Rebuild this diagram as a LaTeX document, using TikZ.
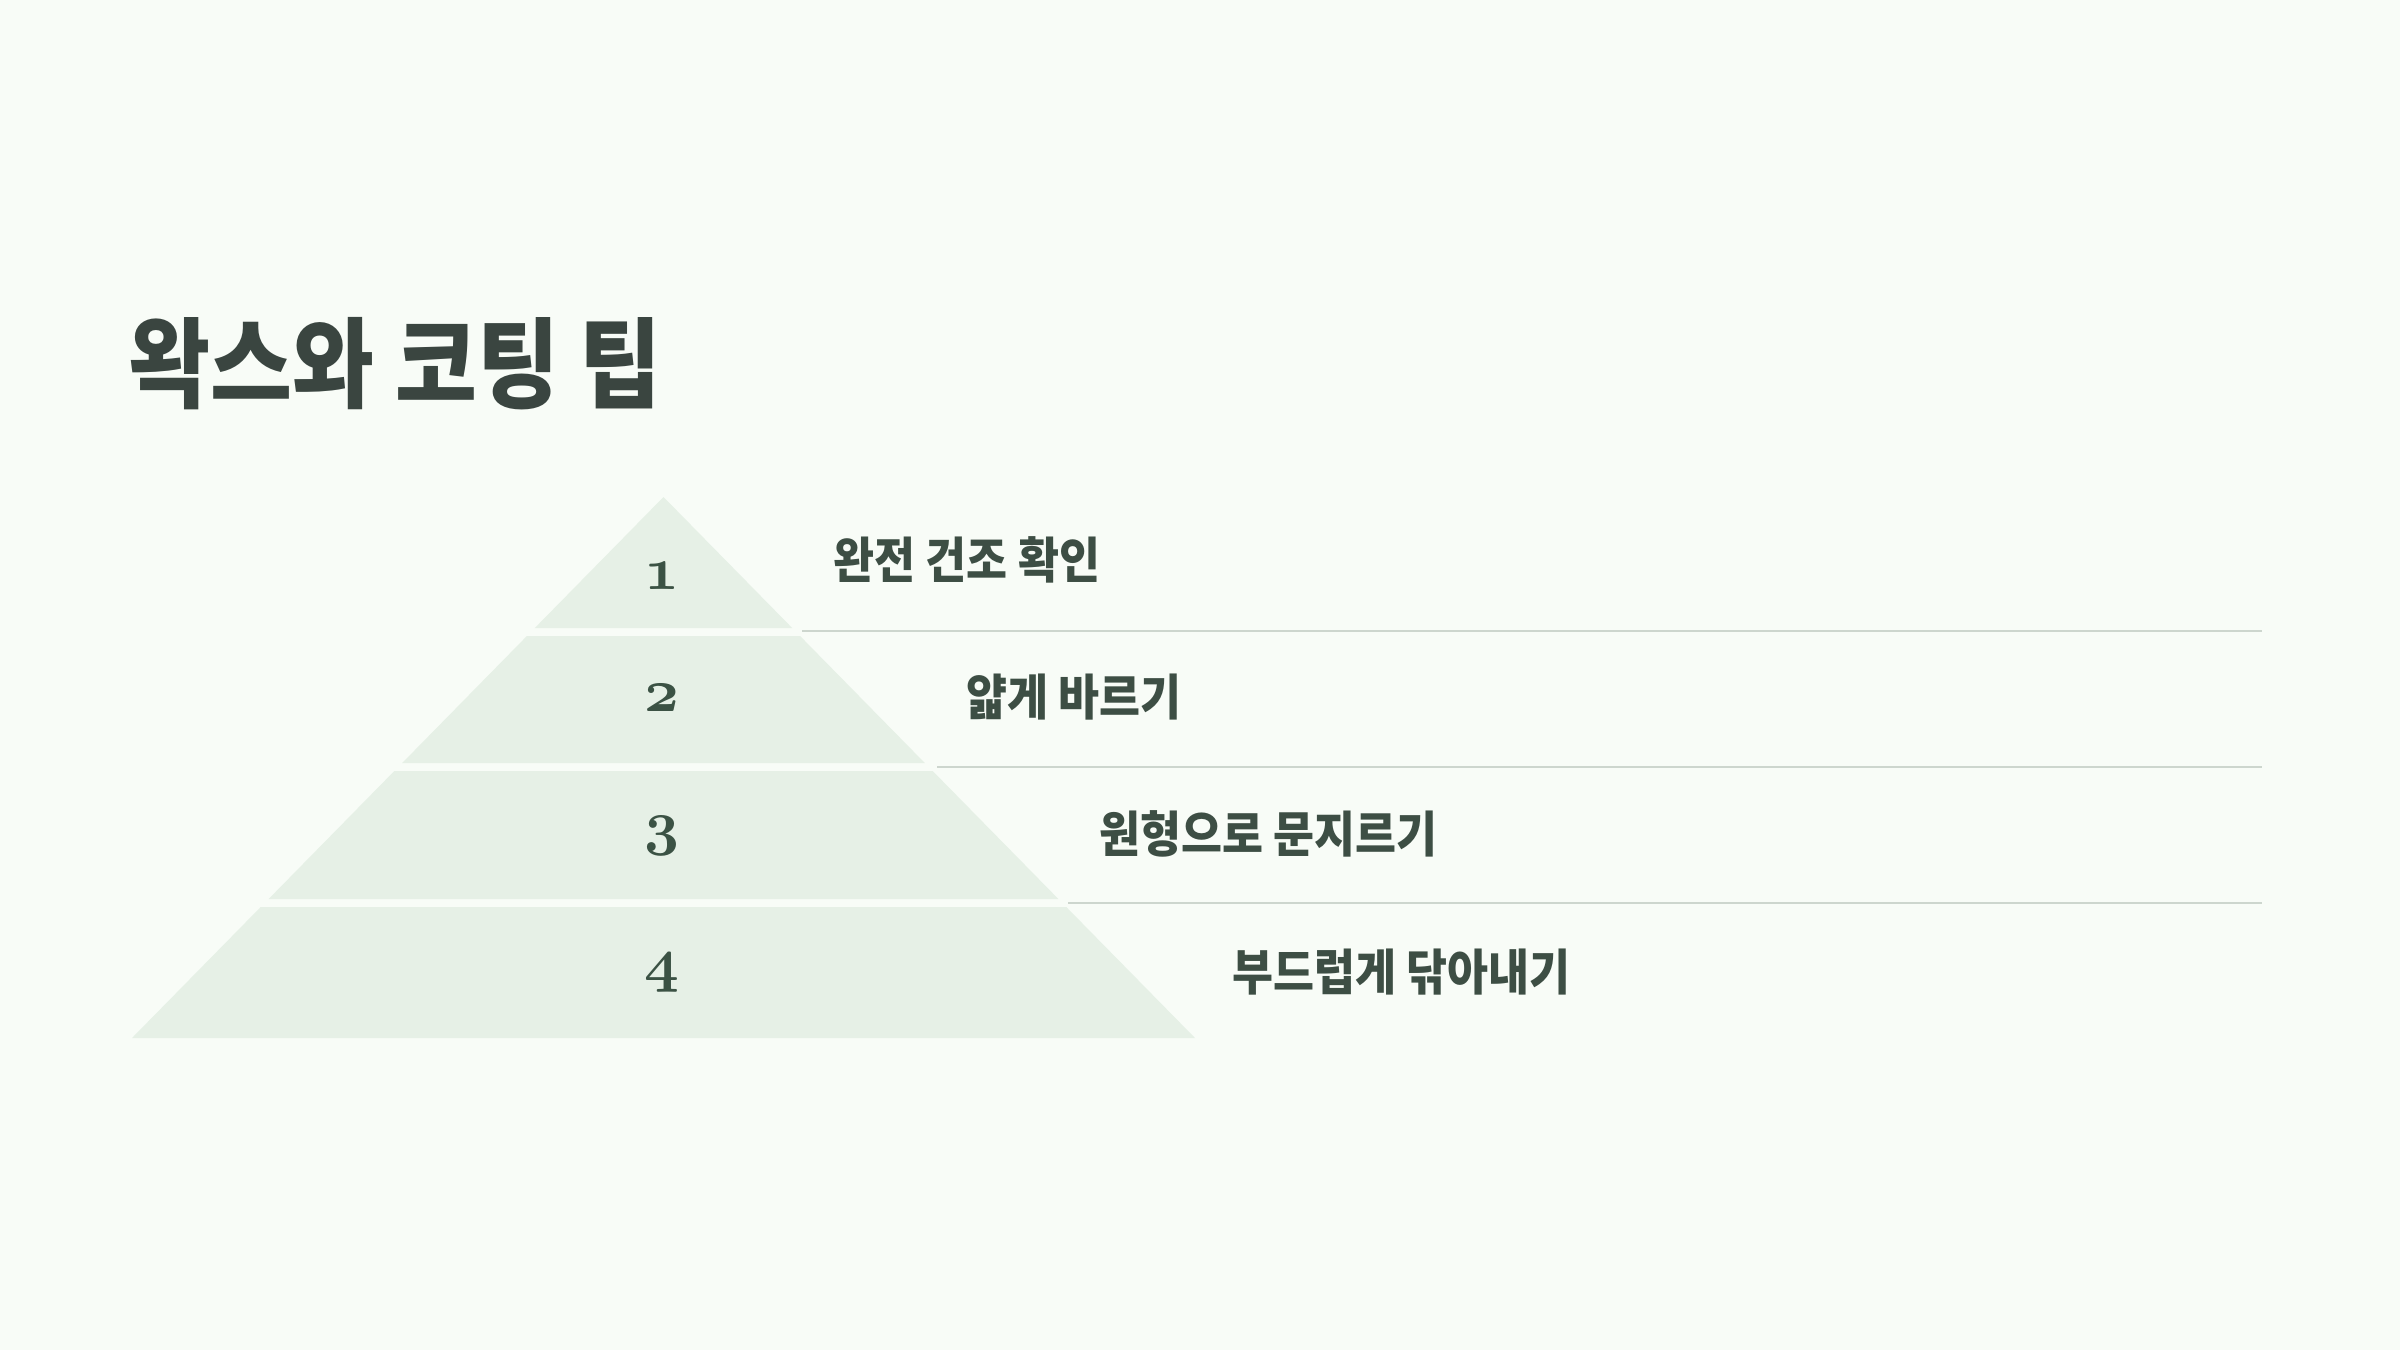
\documentclass[tikz,border=0pt]{standalone}
\usepackage{fontspec}
\newfontfamily\kofont{Noto Sans CJK KR}[FakeStretch=0.905]
\definecolor{pagebg}{HTML}{F8FCF7}
\definecolor{tierfill}{HTML}{E6F0E6}
\definecolor{rulegray}{HTML}{CDD6CE}
\definecolor{titleink}{HTML}{3A4540}
\definecolor{itemink}{HTML}{3D4E44}
\definecolor{numink}{HTML}{3B5244}
\tikzset{
  tier/.style={fill=tierfill, draw=none},
  sepline/.style={draw=rulegray, line width=0.7pt},
  tiernum/.style={inner sep=0pt, text=numink, font=\fontsize{18}{22}\usefont{OML}{cmm}{b}{it}},
  tiertext/.style={anchor=west, inner sep=0pt, text=itemink, font=\kofont\bfseries\fontsize{14}{17}\selectfont},
}
\begin{document}
\begin{tikzpicture}[x=0.01cm, y=-0.01cm]
\useasboundingbox[fill=pagebg] (0,0) rectangle (2400,1350);

\node[anchor=west, inner sep=0pt, text=titleink, font=\kofont\bfseries\fontsize{28}{34}\selectfont] (title) at (128,364) {왁스와 코팅 팁};

% pyramid tiers
\fill[tier] (663.5,497) -- (792.2,628) -- (534.8,628) -- cycle;
\fill[tier] (526.9,636) -- (800.1,636) -- (924.8,763) -- (402.2,763) -- cycle;
\fill[tier] (394.3,771) -- (932.7,771) -- (1058.4,899) -- (268.6,899) -- cycle;
\fill[tier] (260.7,907) -- (1066.3,907) -- (1195,1038) -- (132,1038) -- cycle;

\node[tiernum] (n1) at (662,576) {1};
\node[tiernum] (n2) at (662,698) {2};
\node[tiernum] (n3) at (662,836) {3};
\node[tiernum] (n4) at (662,973) {4};

% separators
\coordinate (s1a) at (802,631);
\coordinate (s1b) at (2262,631);
\coordinate (s2a) at (937,767);
\coordinate (s2b) at (2262,767);
\coordinate (s3a) at (1068,903);
\coordinate (s3b) at (2262,903);
\draw[sepline] (s1a) -- (s1b);
\draw[sepline] (s2a) -- (s2b);
\draw[sepline] (s3a) -- (s3b);

\node[tiertext] (t1) at (833,560) {완전 건조 확인};
\node[tiertext] (t2) at (966,697) {얇게 바르기};
\node[tiertext] (t3) at (1099,834) {원형으로 문지르기};
\node[tiertext] (t4) at (1232,972) {부드럽게 닦아내기};
\end{tikzpicture}
\end{document}
